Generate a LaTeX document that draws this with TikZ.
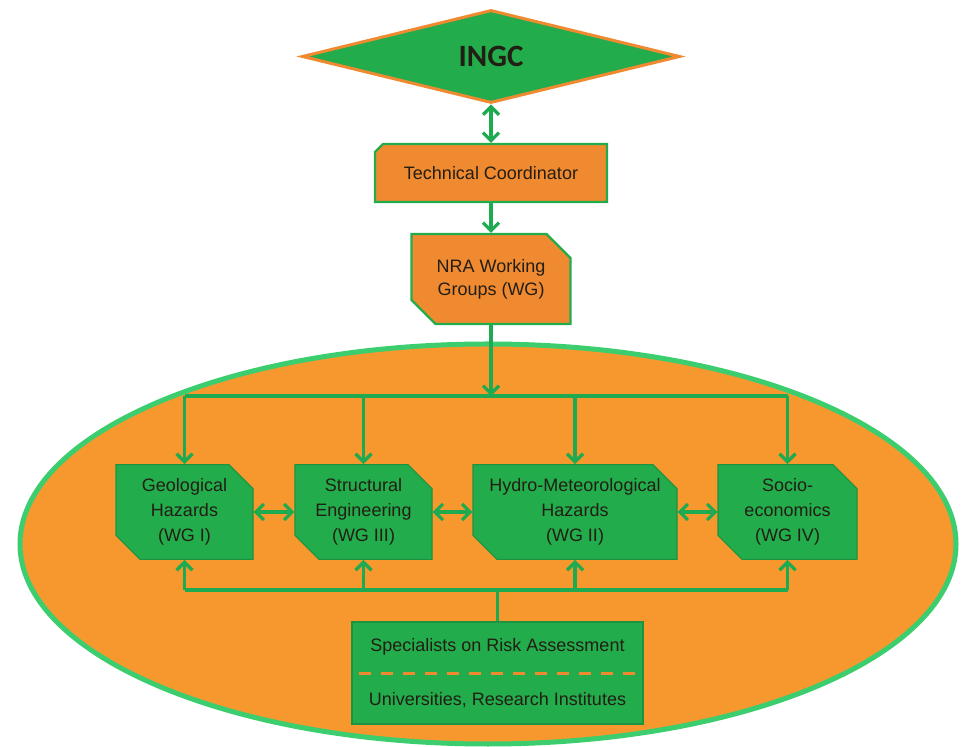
\documentclass[tikz,border=0pt]{standalone}
\usepackage{fontspec}
\setmainfont{Liberation Sans}
\newfontfamily\headfont{Carlito}
\usetikzlibrary{shapes.geometric,shapes.misc,arrows.meta}
\definecolor{wggreen}{RGB}{34,172,76}
\definecolor{rimgreen}{RGB}{60,205,110}
\definecolor{linegreen}{RGB}{30,170,80}
\definecolor{boxorange}{RGB}{240,138,48}
\definecolor{ovalorange}{RGB}{247,152,47}
\definecolor{inktext}{RGB}{35,30,20}
\tikzset{
  link/.style={draw=linegreen, line width=1.6pt, -{Straight Barb[length=4pt,width=8pt]}},
  both/.style={link, {Straight Barb[length=4pt,width=8pt]}-{Straight Barb[length=4pt,width=8pt]}},
  bar/.style={draw=linegreen, line width=1.6pt},
  chief/.style={diamond, fill=wggreen, draw=boxorange, line width=1.5pt, minimum width=189pt, minimum height=46.5pt, inner sep=0pt, font=\headfont\bfseries\fontsize{15.5}{18}\selectfont, text=inktext},
  orbox/.style={chamfered rectangle, chamfered rectangle sep=6pt, fill=boxorange, draw=wggreen, line width=1.2pt, align=center, font=\fontsize{9}{11.5}\selectfont, text=inktext, inner sep=1pt},
  wgbox/.style={chamfered rectangle, chamfered rectangle corners={north east,south west}, chamfered rectangle sep=6pt, fill=wggreen, draw=wggreen!85!black, line width=0.6pt, align=center, font=\fontsize{9}{12.5}\selectfont, text=inktext, minimum height=46pt, inner sep=1pt},
  specbox/.style={rectangle, fill=wggreen, draw=wggreen!85!black, line width=0.6pt, align=center, font=\fontsize{9}{12}\selectfont, text=inktext, minimum width=145.5pt, minimum height=51pt}
}
\begin{document}
\begin{tikzpicture}[x=0.5pt,y=-0.5pt]
\useasboundingbox (0,0) rectangle (963,747);
% the oval that holds the working groups
\draw[line width=2.5pt, draw=rimgreen, fill=ovalorange] (488,544) ellipse [x radius=234pt, y radius=100pt];
% chain of command
\node[chief] (ingc) at (491,56.5) {INGC};
\node[orbox, chamfered rectangle corners=north west, chamfered rectangle sep=2pt, minimum width=116pt, minimum height=29pt] (tc) at (491,173) {Technical Coordinator};
\node[orbox, chamfered rectangle corners={north east,south west}, minimum width=79.5pt, minimum height=45pt] (nra) at (491,279) {NRA Working\\Groups (WG)};
% working groups
\node[wgbox, minimum width=68.5pt] (geo) at (184.5,512) {Geological\\Hazards\\(WG I)};
\node[wgbox, minimum width=68.5pt] (str) at (363.5,512) {Structural\\Engineering\\(WG III)};
\node[wgbox, minimum width=102pt] (hyd) at (575,512) {Hydro-Meteorological\\Hazards\\(WG II)};
\node[wgbox, minimum width=69.5pt] (soc) at (787.5,512) {Socio-\\economics\\(WG IV)};
\node[specbox] (spec) at (497.5,673) {Specialists on Risk Assessment\\[15pt]Universities, Research Institutes};
\coordinate (top) at (491,396);
\coordinate (low) at (497,590);
% connectors
\draw[both] (ingc.south) -- (tc.north);
\draw[link] (tc.south) -- (nra.north);
\draw[link] (nra.south) -- (nra.south |- top);
\draw[bar] (geo.north |- top) -- (soc.north |- top);
\draw[bar] (geo.south |- low) -- (soc.south |- low);
\draw[bar] (spec.north) -- (spec.north |- low);
\foreach \wg in {geo,str,hyd,soc} {
  \draw[link] (\wg.north |- top) -- (\wg.north);
  \draw[link] (\wg.south |- low) -- (\wg.south);
}
\draw[both] (geo.east) -- (str.west);
\draw[both] (str.east) -- (hyd.west);
\draw[both] (hyd.east) -- (soc.west);
\draw[boxorange, line width=1.5pt, dash pattern=on 6pt off 5pt] ([xshift=4pt]spec.west) -- ([xshift=-4pt]spec.east);
\end{tikzpicture}
\end{document}
